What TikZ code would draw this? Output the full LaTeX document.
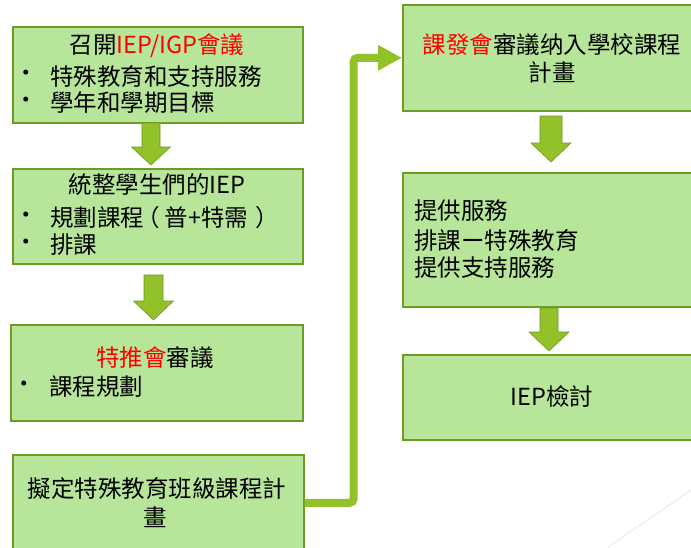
\documentclass[tikz,border=0pt]{standalone}
\usepackage{fontspec}
\newfontfamily\cjk{Noto Sans CJK TC}
\usetikzlibrary{arrows.meta}
\definecolor{boxfill}{HTML}{B7E69B}
\definecolor{boxline}{HTML}{6F9A24}
\definecolor{arrfill}{HTML}{92C12A}
\definecolor{arrline}{HTML}{6F9A24}
\definecolor{redtxt}{HTML}{FF0000}
\tikzset{
  box/.style={draw=boxline, line width=1.6pt, fill=boxfill, anchor=north west, inner sep=0pt},
  txt/.style={font=\cjk\fontsize{23.5}{28}\selectfont, inner sep=0pt, text=black},
  barrow/.style={fill=arrfill, draw=arrline, line width=0.6pt, line join=miter},
  conn/.style={draw=arrfill, line width=8pt, rounded corners=4pt, -{Triangle[length=24pt,width=24pt]}},
}
\newcommand\dnarrow[6]{% cx, ytop, yhead, ytip, halfshaft, halfhead
  \draw[barrow] (#1-#5,#2) -- (#1+#5,#2) -- (#1+#5,#3) -- (#1+#6,#3) -- (#1,#4) -- (#1-#6,#3) -- (#1-#5,#3) -- cycle;}
\begin{document}
\begin{tikzpicture}[x=1pt,y=-1pt]
\useasboundingbox (0,0) rectangle (691,547);
\clip (0,0) rectangle (691,547);
% left column boxes
\node[box, minimum width=290pt, minimum height=96pt] (b1) at (12,26) {};
\node[box, minimum width=290pt, minimum height=95pt] (b2) at (12,168) {};
\node[box, minimum width=292pt, minimum height=96pt] (b3) at (10,324) {};
\node[box, minimum width=291pt, minimum height=96pt] (b4) at (12,454) {};
% right column boxes
\node[box, minimum width=300pt, minimum height=106pt] (b5) at (402,4) {};
\node[box, minimum width=300pt, minimum height=134pt] (b6) at (402,172) {};
\node[box, minimum width=300pt, minimum height=85pt] (b7) at (402,354) {};
% block arrows
\dnarrow{151}{123}{147}{165}{9}{19.5}
\dnarrow{153.5}{275}{301}{320}{9.5}{20}
\dnarrow{551}{116}{143}{162}{11}{20}
\dnarrow{549}{308}{332}{351}{9}{20}
% connector
\draw[conn] (b4.east) -- ++(49,0) |- (b5.west);
% faint line
\draw[gray!25, line width=0.6pt] (608,547) -- (700,484);
% texts box 1
\node[txt] (t1a) at (157,46) {召開\textcolor{redtxt}{IEP/IGP會議}};
\node[txt] (t1b) at (26,76) {•};
\node[txt, anchor=west] (t1c) at (50,76) {特殊教育和支持服務};
\node[txt] (t1d) at (26,103) {•};
\node[txt, anchor=west] (t1e) at (50,103) {學年和學期目標};
% box 2
\node[txt] (t2a) at (157,185) {統整學生們的IEP};
\node[txt] (t2b) at (26,218) {•};
\node[txt, anchor=west] (t2c) at (50,218) {規劃課程\hspace{-8pt}（\hspace{5pt}普+特需\hspace{7pt}）};
\node[txt] (t2d) at (26,245) {•};
\node[txt, anchor=west] (t2e) at (50,245) {排課};
% box 3
\node[txt] (t3a) at (155,358) {\textcolor{redtxt}{特推會}審議};
\node[txt] (t3b) at (24,387) {•};
\node[txt, anchor=west] (t3c) at (49,387) {課程規劃};
% box 4
\node[txt] (t4a) at (157,488) {擬定特殊教育班級課程計};
\node[txt] (t4b) at (155,517) {畫};
% box 5
\node[txt] (t5a) at (552,45) {\textcolor{redtxt}{課發會}審議纳入學校課程};
\node[txt] (t5b) at (552,73) {計畫};
% box 6
\node[txt, anchor=west] (t6a) at (414,211) {提供服務};
\node[txt, anchor=west] (t6b) at (414,240) {排課ー特殊教育};
\node[txt, anchor=west] (t6c) at (414,268) {提供支持服務};
% box 7
\node[txt] (t7a) at (552,397) {IEP檢討};
\end{tikzpicture}
\end{document}
